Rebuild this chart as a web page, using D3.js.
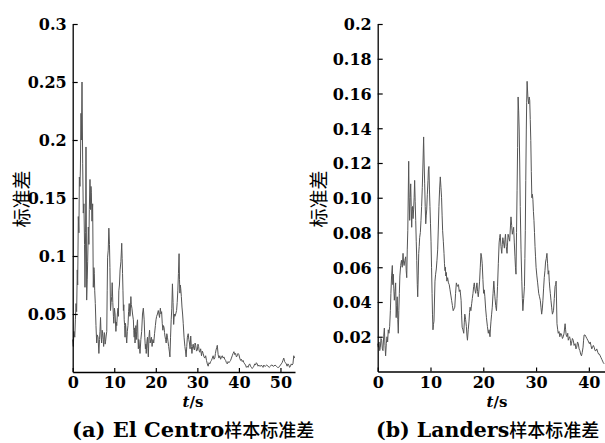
<!DOCTYPE html>
<html><head><meta charset="utf-8">
<script src="https://cdn.jsdelivr.net/npm/d3@7"></script>
<style>
body{margin:0;background:#fff;}
svg{display:block;}
.tick text{font-family:"DejaVu Serif",serif;font-weight:bold;font-size:16px;fill:#000;}
</style></head>
<body>
<svg id="c" width="605" height="443"></svg>
<script>
// ---- data ----
const elCentro = [[0,0.028],[0.15,0.022],[0.3,0.035],[0.5,0.03],[0.65,0.045],[0.8,0.059],[0.95,0.052],[1.1,0.088],[1.2,0.075],[1.35,0.134],[1.5,0.12],[1.6,0.168],[1.75,0.16],[1.85,0.175],[2.0,0.223],[2.1,0.2],[2.24,0.25],[2.4,0.18],[2.55,0.137],[2.7,0.145],[2.85,0.11],[2.96,0.073],[3.1,0.12],[3.2,0.194],[3.36,0.062],[3.5,0.08],[3.6,0.095],[3.76,0.125],[3.9,0.11],[4.0,0.14],[4.16,0.166],[4.3,0.14],[4.4,0.16],[4.48,0.155],[4.64,0.13],[4.8,0.145],[4.96,0.073],[5.1,0.09],[5.2,0.085],[5.3,0.07],[5.44,0.059],[5.6,0.04],[5.77,0.025],[5.9,0.032],[6.1,0.03],[6.3,0.016],[6.45,0.028],[6.56,0.035],[6.7,0.047],[6.85,0.03],[6.96,0.025],[7.1,0.036],[7.2,0.033],[7.35,0.028],[7.45,0.022],[7.6,0.034],[7.7,0.032],[7.8,0.024],[7.9,0.026],[8.05,0.031],[8.2,0.035],[8.3,0.07],[8.4,0.099],[8.55,0.105],[8.7,0.124],[8.85,0.11],[8.96,0.09],[9.1,0.053],[9.25,0.06],[9.4,0.065],[9.5,0.077],[9.65,0.06],[9.8,0.048],[9.9,0.042],[10.05,0.055],[10.2,0.05],[10.4,0.035],[10.5,0.043],[10.6,0.04],[10.75,0.05],[10.9,0.055],[11.0,0.048],[11.1,0.07],[11.25,0.075],[11.4,0.088],[11.6,0.095],[11.8,0.111],[11.9,0.098],[12.0,0.085],[12.1,0.07],[12.2,0.053],[12.3,0.058],[12.4,0.045],[12.5,0.04],[12.6,0.03],[12.7,0.042],[12.8,0.038],[12.9,0.03],[13.0,0.025],[13.15,0.035],[13.3,0.04],[13.45,0.052],[13.6,0.059],[13.75,0.048],[13.85,0.05],[14.0,0.065],[14.1,0.058],[14.25,0.055],[14.4,0.05],[14.6,0.045],[14.7,0.036],[14.8,0.03],[14.9,0.038],[15.0,0.025],[15.1,0.032],[15.2,0.04],[15.3,0.028],[15.4,0.035],[15.5,0.042],[15.6,0.045],[15.7,0.03],[15.8,0.02],[15.9,0.028],[16.0,0.025],[16.1,0.02],[16.2,0.016],[16.4,0.028],[16.6,0.035],[16.8,0.05],[17.0,0.055],[17.1,0.05],[17.2,0.045],[17.35,0.03],[17.5,0.02],[17.6,0.024],[17.7,0.016],[17.85,0.026],[18.0,0.03],[18.1,0.02],[18.2,0.013],[18.35,0.03],[18.5,0.036],[18.65,0.025],[18.8,0.028],[18.95,0.03],[19.1,0.022],[19.3,0.028],[19.5,0.025],[19.7,0.033],[19.9,0.04],[20.05,0.045],[20.2,0.048],[20.4,0.05],[20.6,0.053],[20.75,0.05],[20.9,0.047],[21.0,0.052],[21.1,0.055],[21.25,0.05],[21.4,0.052],[21.55,0.042],[21.7,0.036],[21.85,0.04],[22.0,0.038],[22.1,0.034],[22.2,0.031],[22.35,0.028],[22.5,0.025],[22.65,0.033],[22.8,0.03],[22.95,0.026],[23.1,0.022],[23.25,0.018],[23.4,0.013],[23.55,0.03],[23.7,0.045],[23.85,0.055],[24.0,0.076],[24.15,0.06],[24.3,0.041],[24.45,0.05],[24.6,0.048],[24.8,0.05],[25.0,0.053],[25.15,0.06],[25.3,0.07],[25.45,0.085],[25.6,0.102],[25.7,0.08],[25.8,0.068],[25.9,0.075],[26.0,0.072],[26.15,0.065],[26.3,0.056],[26.45,0.05],[26.6,0.042],[26.8,0.03],[27.0,0.022],[27.15,0.018],[27.3,0.013],[27.45,0.022],[27.6,0.03],[27.8,0.033],[27.95,0.028],[28.1,0.025],[28.25,0.02],[28.4,0.031],[28.55,0.022],[28.7,0.016],[28.85,0.022],[29.0,0.024],[29.15,0.02],[29.3,0.019],[29.45,0.025],[29.6,0.023],[29.8,0.018],[30.0,0.019],[30.15,0.024],[30.3,0.022],[30.45,0.018],[30.6,0.017],[30.8,0.02],[31.0,0.014],[31.2,0.018],[31.4,0.016],[31.6,0.013],[31.8,0.012],[32.0,0.014],[32.2,0.010],[32.4,0.007],[32.6,0.005],[32.8,0.008],[33.0,0.007],[33.2,0.009],[33.4,0.010],[33.6,0.012],[33.8,0.014],[34.0,0.011],[34.2,0.012],[34.35,0.016],[34.5,0.019],[34.65,0.021],[34.8,0.023],[35.0,0.015],[35.2,0.012],[35.4,0.014],[35.6,0.011],[35.8,0.013],[36.0,0.014],[36.2,0.012],[36.4,0.013],[36.6,0.011],[36.8,0.010],[37.0,0.008],[37.2,0.007],[37.4,0.009],[37.6,0.008],[37.8,0.009],[38.0,0.010],[38.2,0.012],[38.4,0.014],[38.6,0.016],[38.8,0.0175],[39.0,0.015],[39.2,0.016],[39.4,0.013],[39.6,0.014],[39.8,0.016],[40.0,0.015],[40.2,0.012],[40.4,0.010],[40.6,0.011],[40.8,0.009],[41.0,0.010],[41.2,0.008],[41.4,0.007],[41.6,0.006],[41.8,0.004],[42.0,0.005],[42.2,0.004],[42.4,0.006],[42.6,0.007],[42.8,0.005],[43.0,0.004],[43.2,0.003],[43.4,0.004],[43.6,0.005],[43.8,0.007],[44.0,0.006],[44.2,0.008],[44.4,0.007],[44.6,0.005],[44.8,0.006],[45.0,0.005],[45.2,0.005],[45.4,0.006],[45.6,0.005],[45.8,0.004],[46.0,0.006],[46.2,0.005],[46.4,0.005],[46.7,0.006],[47.0,0.005],[47.3,0.004],[47.6,0.005],[47.8,0.006],[48.0,0.006],[48.2,0.005],[48.4,0.005],[48.7,0.006],[49.0,0.005],[49.3,0.004],[49.6,0.004],[49.8,0.005],[50.0,0.006],[50.2,0.007],[50.4,0.008],[50.6,0.010],[50.8,0.012],[51.0,0.009],[51.2,0.008],[51.4,0.007],[51.6,0.005],[51.8,0.007],[52.0,0.006],[52.2,0.004],[52.4,0.005],[52.6,0.007],[52.8,0.006],[53.0,0.007],[53.2,0.014],[53.4,0.012]];

const landers = [[0,0.016],[0.12,0.014],[0.25,0.017],[0.38,0.012],[0.5,0.014],[0.62,0.019],[0.75,0.018],[0.88,0.013],[1.0,0.012],[1.13,0.02],[1.26,0.025],[1.38,0.015],[1.5,0.009],[1.63,0.016],[1.76,0.02],[1.88,0.017],[2.0,0.024],[2.13,0.022],[2.27,0.026],[2.4,0.035],[2.5,0.045],[2.63,0.055],[2.77,0.061],[2.86,0.05],[2.96,0.056],[3.05,0.048],[3.15,0.041],[3.28,0.046],[3.4,0.051],[3.5,0.031],[3.6,0.038],[3.7,0.043],[3.8,0.03],[3.9,0.022],[4.0,0.035],[4.1,0.045],[4.2,0.055],[4.35,0.061],[4.5,0.064],[4.65,0.06],[4.8,0.068],[4.9,0.063],[5.0,0.061],[5.15,0.064],[5.3,0.066],[5.4,0.058],[5.5,0.054],[5.6,0.07],[5.7,0.081],[5.87,0.121],[5.95,0.1],[6.06,0.087],[6.15,0.1],[6.25,0.108],[6.35,0.095],[6.44,0.083],[6.52,0.092],[6.6,0.095],[6.7,0.088],[6.8,0.093],[6.9,0.1],[7.0,0.110],[7.1,0.098],[7.2,0.087],[7.3,0.075],[7.4,0.064],[7.5,0.05],[7.58,0.043],[7.68,0.055],[7.77,0.068],[7.86,0.072],[7.95,0.077],[8.08,0.08],[8.2,0.087],[8.32,0.095],[8.45,0.106],[8.58,0.12],[8.7,0.135],[8.8,0.12],[8.9,0.108],[9.0,0.095],[9.1,0.085],[9.2,0.09],[9.28,0.093],[9.4,0.102],[9.53,0.110],[9.6,0.116],[9.7,0.118],[9.8,0.105],[9.9,0.095],[10.0,0.085],[10.1,0.075],[10.2,0.06],[10.3,0.045],[10.38,0.033],[10.47,0.024],[10.56,0.027],[10.66,0.029],[10.75,0.04],[10.85,0.052],[10.97,0.056],[11.1,0.059],[11.23,0.064],[11.36,0.070],[11.48,0.082],[11.6,0.095],[11.73,0.105],[11.86,0.112],[11.98,0.106],[12.1,0.100],[12.2,0.09],[12.3,0.081],[12.43,0.075],[12.56,0.068],[12.65,0.062],[12.75,0.058],[12.82,0.06],[12.9,0.055],[13.0,0.057],[13.1,0.052],[13.25,0.054],[13.4,0.051],[13.55,0.05],[13.7,0.047],[13.85,0.044],[14.0,0.041],[14.15,0.038],[14.3,0.035],[14.45,0.036],[14.6,0.037],[14.75,0.045],[14.9,0.051],[15.1,0.049],[15.3,0.050],[15.45,0.046],[15.6,0.047],[15.7,0.044],[15.8,0.041],[15.9,0.032],[16.0,0.0255],[16.15,0.024],[16.3,0.022],[16.4,0.028],[16.5,0.033],[16.65,0.03],[16.8,0.026],[16.9,0.021],[17.0,0.018],[17.15,0.024],[17.3,0.029],[17.4,0.034],[17.5,0.037],[17.65,0.035],[17.8,0.039],[17.92,0.042],[18.05,0.045],[18.18,0.049],[18.3,0.051],[18.43,0.047],[18.56,0.045],[18.68,0.048],[18.8,0.051],[18.92,0.046],[19.05,0.043],[19.18,0.047],[19.3,0.052],[19.43,0.06],[19.56,0.068],[19.68,0.066],[19.8,0.062],[19.93,0.053],[20.06,0.045],[20.18,0.047],[20.3,0.043],[20.45,0.036],[20.6,0.031],[20.78,0.026],[20.95,0.022],[21.1,0.024],[21.27,0.020],[21.36,0.025],[21.46,0.029],[21.58,0.033],[21.7,0.037],[21.85,0.045],[22.0,0.052],[22.1,0.047],[22.2,0.043],[22.35,0.038],[22.5,0.035],[22.6,0.042],[22.7,0.049],[22.85,0.062],[23.0,0.074],[23.1,0.077],[23.2,0.079],[23.35,0.072],[23.5,0.068],[23.6,0.073],[23.7,0.077],[23.85,0.074],[24.0,0.071],[24.1,0.076],[24.2,0.079],[24.35,0.072],[24.5,0.068],[24.6,0.074],[24.7,0.079],[24.85,0.077],[25.0,0.075],[25.12,0.082],[25.25,0.089],[25.38,0.084],[25.5,0.079],[25.62,0.081],[25.75,0.083],[25.88,0.074],[26.0,0.066],[26.1,0.06],[26.2,0.056],[26.3,0.08],[26.4,0.104],[26.5,0.129],[26.6,0.158],[26.7,0.15],[26.8,0.139],[26.9,0.12],[27.0,0.095],[27.15,0.07],[27.3,0.052],[27.4,0.042],[27.5,0.035],[27.65,0.042],[27.8,0.049],[27.88,0.065],[27.96,0.081],[28.05,0.11],[28.15,0.139],[28.22,0.155],[28.3,0.167],[28.45,0.158],[28.6,0.154],[28.7,0.158],[28.8,0.156],[28.9,0.145],[29.0,0.133],[29.1,0.115],[29.2,0.100],[29.3,0.102],[29.4,0.099],[29.5,0.092],[29.6,0.087],[29.7,0.08],[29.8,0.072],[29.9,0.066],[30.0,0.060],[30.15,0.055],[30.3,0.051],[30.4,0.048],[30.5,0.045],[30.65,0.043],[30.8,0.041],[30.93,0.037],[31.06,0.033],[31.18,0.036],[31.3,0.041],[31.43,0.048],[31.55,0.054],[31.68,0.058],[31.8,0.063],[31.93,0.065],[32.06,0.068],[32.18,0.062],[32.3,0.056],[32.4,0.058],[32.5,0.052],[32.6,0.048],[32.7,0.045],[32.82,0.041],[32.95,0.037],[33.1,0.033],[33.3,0.035],[33.45,0.042],[33.6,0.049],[33.7,0.05],[33.8,0.052],[33.88,0.04],[33.96,0.0275],[34.1,0.024],[34.2,0.022],[34.35,0.023],[34.5,0.020],[34.68,0.022],[34.85,0.021],[35.0,0.019],[35.15,0.020],[35.3,0.022],[35.5,0.0275],[35.6,0.024],[35.7,0.021],[35.85,0.02],[36.0,0.022],[36.1,0.018],[36.2,0.019],[36.35,0.02],[36.5,0.018],[36.6,0.015],[36.7,0.016],[36.88,0.019],[37.05,0.018],[37.2,0.015],[37.4,0.016],[37.55,0.013],[37.7,0.014],[37.85,0.017],[38.0,0.016],[38.15,0.013],[38.3,0.012],[38.45,0.01],[38.6,0.009],[38.75,0.011],[38.9,0.014],[39.0,0.018],[39.1,0.021],[39.28,0.021],[39.45,0.020],[39.62,0.019],[39.8,0.018],[39.95,0.017],[40.1,0.016],[40.25,0.017],[40.4,0.015],[40.55,0.013],[40.7,0.014],[40.85,0.015],[41.0,0.014],[41.18,0.012],[41.35,0.012],[41.5,0.013],[41.7,0.011],[41.85,0.01],[42.0,0.010],[42.15,0.009],[42.3,0.008],[42.45,0.007],[42.6,0.006],[42.75,0.005],[42.9,0.0044]];

const xTicksA = [0,10,20,30,40,50];
const yTicksA = [0.05,0.1,0.15,0.2,0.25,0.3];
const yLabelsA = ["0.05","0.1","0.15","0.2","0.25","0.3"];
const xTicksB = [0,10,20,30,40];
const yTicksB = [0.02,0.04,0.06,0.08,0.10,0.12,0.14,0.16,0.18,0.2];
const yLabelsB = ["0.02","0.04","0.06","0.08","0.10","0.12","0.14","0.16","0.18","0.2"];
const yTitle = "标准差";
const captionA = ["(a) El Centro","样本标准差"];
const captionB = ["(b) Landers","样本标准差"];

// ---- drawing ----
const svg = d3.select("#c");

function panel(o){
  const x = d3.scaleLinear().domain(o.xDomain).range(o.xRange);
  const y = d3.scaleLinear().domain(o.yDomain).range(o.yRange);
  const g = svg.append("g");

  g.append("path").datum(o.data)
    .attr("fill","none").attr("stroke","#555").attr("stroke-width",1)
    .attr("stroke-linejoin","round")
    .attr("d", d3.line().x(d=>x(d[0])).y(d=>y(d[1])));

  const ya = d3.axisLeft(y).tickValues(o.yTicks).tickFormat((d,i)=>o.yLabels[i])
    .tickSizeInner(-5).tickSizeOuter(0).tickPadding(6);
  const gy = g.append("g").attr("transform",`translate(${o.xRange[0]},0)`).call(ya);
  const xa = d3.axisBottom(x).tickValues(o.xTicks).tickFormat(d3.format("d"))
    .tickSizeInner(-4).tickSizeOuter(0).tickPadding(5);
  const gx = g.append("g").attr("transform",`translate(0,${o.yRange[0]})`).call(xa);
  [gx,gy].forEach(a=>{
    a.select(".domain").attr("stroke","#000").attr("stroke-width",1.3);
    a.selectAll(".tick line").attr("stroke","#000").attr("stroke-width",1.2);
  });
  gy.selectAll(".tick text").attr("dy","0.36em");

  g.append("text").attr("transform",`translate(${o.yTitleX},${o.yTitleY}) rotate(-90)`)
    .attr("text-anchor","middle").attr("dominant-baseline","central")
    .attr("font-family","'Noto Sans CJK SC'").attr("font-size",19).text(yTitle);

  const xt = g.append("text").attr("x",o.xTitleX).attr("y",407).attr("text-anchor","middle")
    .attr("font-family","'DejaVu Serif',serif").attr("font-weight","bold").attr("font-size",15);
  xt.append("tspan").attr("font-style","italic").text("t");
  xt.append("tspan").text("/s");

  const cap = g.append("text").attr("x",o.capX).attr("y",437);
  cap.append("tspan").attr("font-family","'DejaVu Serif',serif").attr("font-weight","bold")
    .attr("font-size",o.capLatin).text(o.caption[0]);
  cap.append("tspan").attr("font-family","'Noto Sans CJK SC'").attr("font-weight",500)
    .attr("font-size",18).text(o.caption[1]);
}

panel({data:elCentro, xDomain:[0,53.5], xRange:[72.7,295], yDomain:[0,0.3], yRange:[372,24],
  xTicks:xTicksA, yTicks:yTicksA, yLabels:yLabelsA, yTitleX:20.5, yTitleY:199, xTitleX:193,
  caption:captionA, capX:72, capLatin:21});
panel({data:landers, xDomain:[0,43], xRange:[377.7,604.7], yDomain:[0,0.2], yRange:[371.5,24],
  xTicks:xTicksB, yTicks:yTicksB, yLabels:yLabelsB, yTitleX:317, yTitleY:199, xTitleX:497,
  caption:captionB, capX:376, capLatin:20.5});
</script>
</body></html>
